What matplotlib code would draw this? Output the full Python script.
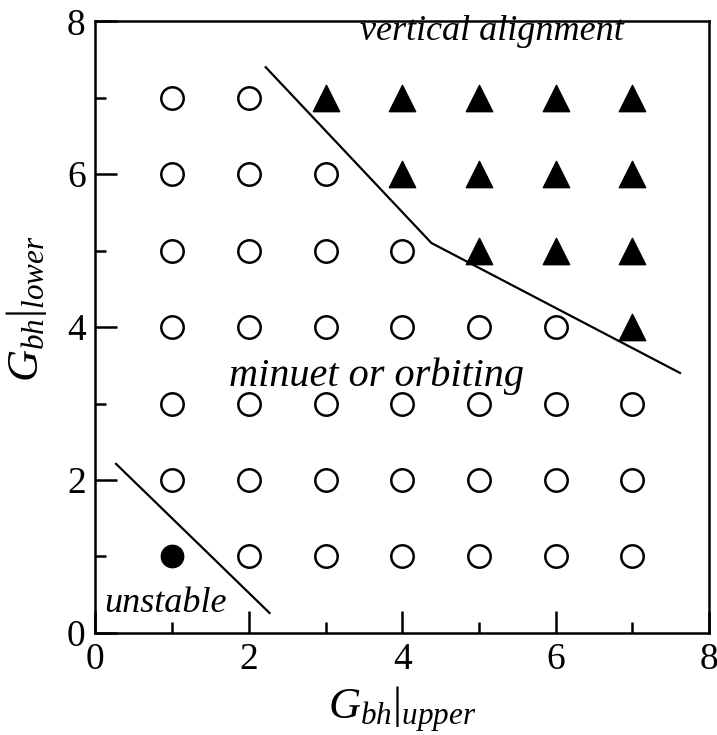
import matplotlib
matplotlib.use("Agg")
import matplotlib.pyplot as plt
from matplotlib.ticker import MultipleLocator

plt.rcParams["font.family"] = "Liberation Serif"
plt.rcParams["mathtext.fontset"] = "custom"
plt.rcParams["mathtext.rm"] = "Liberation Serif"
plt.rcParams["mathtext.it"] = "Liberation Serif:italic"

# open circles: minuet or orbiting
orbit_x = [1, 2, 1, 2, 3, 1, 2, 3, 4, 1, 2, 3, 4, 5, 6,
           1, 2, 3, 4, 5, 6, 7, 1, 2, 3, 4, 5, 6, 7, 2, 3, 4, 5, 6, 7]
orbit_y = [7, 7, 6, 6, 6, 5, 5, 5, 5, 4, 4, 4, 4, 4, 4,
           3, 3, 3, 3, 3, 3, 3, 2, 2, 2, 2, 2, 2, 2, 1, 1, 1, 1, 1, 1]

# filled triangles: vertical alignment
vert_x = [3, 4, 5, 6, 7, 4, 5, 6, 7, 5, 6, 7, 7]
vert_y = [7, 7, 7, 7, 7, 6, 6, 6, 6, 5, 5, 5, 4]

# filled circle: unstable
unst_x = [1]
unst_y = [1]

# boundary lines
bound1_x = [2.22, 4.38, 7.62]
bound1_y = [7.40, 5.10, 3.40]
bound2_x = [0.27, 2.27]
bound2_y = [2.21, 0.26]

fig = plt.figure(figsize=(7.17, 7.35), dpi=100)
ax = fig.add_axes([0.133, 0.139, 0.856, 0.832])

ax.plot(bound1_x, bound1_y, color="black", lw=1.6)
ax.plot(bound2_x, bound2_y, color="black", lw=1.6)

ax.scatter(orbit_x, orbit_y, s=260, facecolors="white", edgecolors="black",
           linewidths=1.8, zorder=3)
ax.scatter(vert_x, vert_y, marker="^", s=360, color="black", zorder=3)
ax.scatter(unst_x, unst_y, s=260, color="black", zorder=3)

ax.text(3.67, 3.23, "minuet or orbiting", style="italic", fontsize=29,
        ha="center", va="baseline")
ax.text(5.17, 7.75, "vertical alignment", style="italic", fontsize=26,
        ha="center", va="baseline")
ax.text(0.91, 0.27, "unstable", style="italic", fontsize=26,
        ha="center", va="baseline")

ax.set_xlim(0, 8)
ax.set_ylim(0, 8)
ax.xaxis.set_major_locator(MultipleLocator(2))
ax.xaxis.set_minor_locator(MultipleLocator(1))
ax.yaxis.set_major_locator(MultipleLocator(2))
ax.yaxis.set_minor_locator(MultipleLocator(1))
ax.tick_params(which="both", direction="in", top=False, right=False,
               labelsize=27, width=1.8, pad=7)
ax.tick_params(which="major", length=16)
ax.tick_params(which="minor", length=8)
for sp in ax.spines.values():
    sp.set_linewidth(1.8)

ax.set_xlabel(r"$G_{bh}|_{upper}$", fontsize=32, labelpad=5)
ax.set_ylabel(r"$G_{bh}|_{lower}$", fontsize=32)
ax.yaxis.set_label_coords(-0.076, 0.53)

fig.savefig("out.png", dpi=100)
